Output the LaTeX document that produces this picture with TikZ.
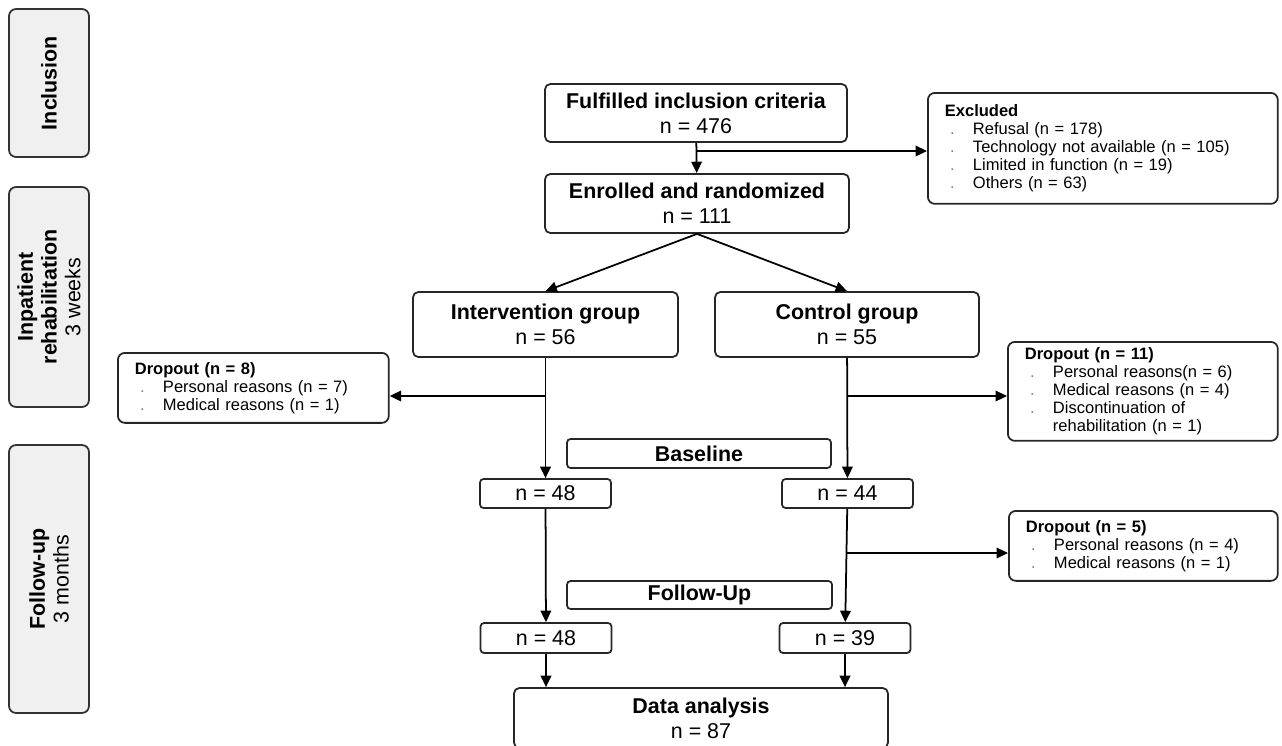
\documentclass[tikz,border=0pt]{standalone}
\usepackage{fontspec}
\setmainfont{Liberation Sans}
\usetikzlibrary{arrows.meta}
\newcommand{\itm}{\makebox[16pt][l]{\hspace{3pt}\textcolor{gray}{.}}}
\newcommand{\cont}{\hspace*{16pt}}
\begin{document}
\begin{tikzpicture}[x=0.02cm,y=-0.02cm,>={Triangle[length=6.5pt,width=6pt]},line width=1pt]
        \tikzstyle{phase}=[draw=black!80,fill=black!6,rounded corners=4pt,line width=1pt,rotate=90,align=center,minimum height=1.6cm,font=\fontsize{12.2}{13.5}\selectfont]
        \tikzstyle{stage}=[draw=black!85,rounded corners=3pt,line width=1pt,align=center,inner sep=0pt,font=\fontsize{12.2}{14.2}\selectfont]
        \tikzstyle{count}=[stage,minimum width=2.62cm,minimum height=0.58cm,rounded corners=2pt]
        \tikzstyle{listbox}=[draw=black!85,rounded corners=4pt,line width=1pt,anchor=north west,align=left,inner xsep=0.34cm,inner ysep=0pt,font=\fontsize{9.4}{10.2}\selectfont]
        \tikzstyle{edge}=[draw,->]

        \useasboundingbox (0,0) rectangle (1282,745);
        \clip (0,0) rectangle (1282,745);

        % phases
        \node [phase,minimum width=2.96cm] (inc) at (49,83) {\textbf{Inclusion}};
        \node [phase,minimum width=4.4cm] (inp) at (49,297) {\textbf{Inpatient}\\\textbf{rehabilitation}\\3 weeks};
        \node [phase,minimum width=5.36cm] (fol) at (49,579) {\textbf{Follow-up}\\3 months};

        % flow
        \node [stage,minimum width=6.04cm,minimum height=1.16cm] (crit) at (696,113) {\textbf{Fulfilled inclusion criteria}\\n = 476};
        \node [stage,minimum width=6.08cm,minimum height=1.18cm] (rand) at (697,203.5) {\textbf{Enrolled and randomized}\\n = 111};
        \node [stage,minimum width=5.3cm,minimum height=1.3cm] (ig) at (545.5,324.5) {\textbf{Intervention group}\\n = 56};
        \node [stage,minimum width=5.28cm,minimum height=1.3cm] (cg) at (847,324.5) {\textbf{Control group}\\n = 55};
        \node [count,minimum width=5.28cm] (base) at (699,453.5) {\textbf{Baseline}};
        \node [count] (ig1) at (545.5,493.5) {n = 48};
        \node [count] (cg1) at (847.5,493.5) {n = 44};
        \node [count,minimum width=5.3cm,minimum height=0.56cm] (fu) at (699.5,595) {\textbf{Follow-Up}};
        \node [count,minimum height=0.6cm] (ig2) at (546,638) {n = 48};
        \node [count,minimum height=0.6cm] (cg2) at (845,638) {n = 39};
        \node [stage,minimum width=7.48cm,minimum height=1.2cm] (ana) at (701,718) {\textbf{Data analysis}\\n = 87};

        % excluded and dropouts
        \node [listbox,minimum width=7cm,minimum height=2.22cm,text width=6.32cm] (excl) at (927,92) {\textbf{Excluded}\\\itm Refusal (n = 178)\\\itm Technology not available (n = 105)\\\itm Limited in function (n = 19)\\\itm Others (n = 63)};
        \node [listbox,minimum width=5.42cm,minimum height=1.4cm,text width=4.74cm] (drop8) at (117,352) {\textbf{Dropout (n = 8)}\\\itm Personal reasons (n = 7)\\\itm Medical reasons (n = 1)};
        \node [listbox,minimum width=5.4cm,minimum height=1.98cm,text width=4.72cm] (drop11) at (1007,341) {\textbf{Dropout (n = 11)}\\\itm Personal reasons(n = 6)\\\itm Medical reasons (n = 4)\\\itm Discontinuation of\\\cont rehabilitation (n = 1)};
        \node [listbox,minimum width=5.38cm,minimum height=1.4cm,text width=4.7cm] (drop5) at (1008,510) {\textbf{Dropout (n = 5)}\\\itm Personal reasons (n = 4)\\\itm Medical reasons (n = 1)};

        % connectors
        \coordinate (b1) at (697,151);
        \coordinate (b2) at (545.5,396);
        \coordinate (b3) at (847,396);
        \coordinate (b4) at (846.5,553);
        \path[edge] (crit) -- (rand);
        \path[edge] (b1) -- (b1 -| excl.west);
        \path[edge] (rand.south) -- (ig.north);
        \path[edge] (rand.south) -- (cg.north);
        \path[edge] (ig) -- (ig1);
        \path[edge] (b2) -- (b2 -| drop8.east);
        \path[edge] (cg) -- (cg1);
        \path[edge] (b3) -- (b3 -| drop11.west);
        \path[edge] (cg1) -- (cg2);
        \path[edge] (b4) -- (b4 -| drop5.west);
        \path[edge] (ig1) -- (ig2);
        \path[edge] (ig2) -- (ig2 |- ana.north);
        \path[edge] (cg2) -- (cg2 |- ana.north);
\end{tikzpicture}
\end{document}
